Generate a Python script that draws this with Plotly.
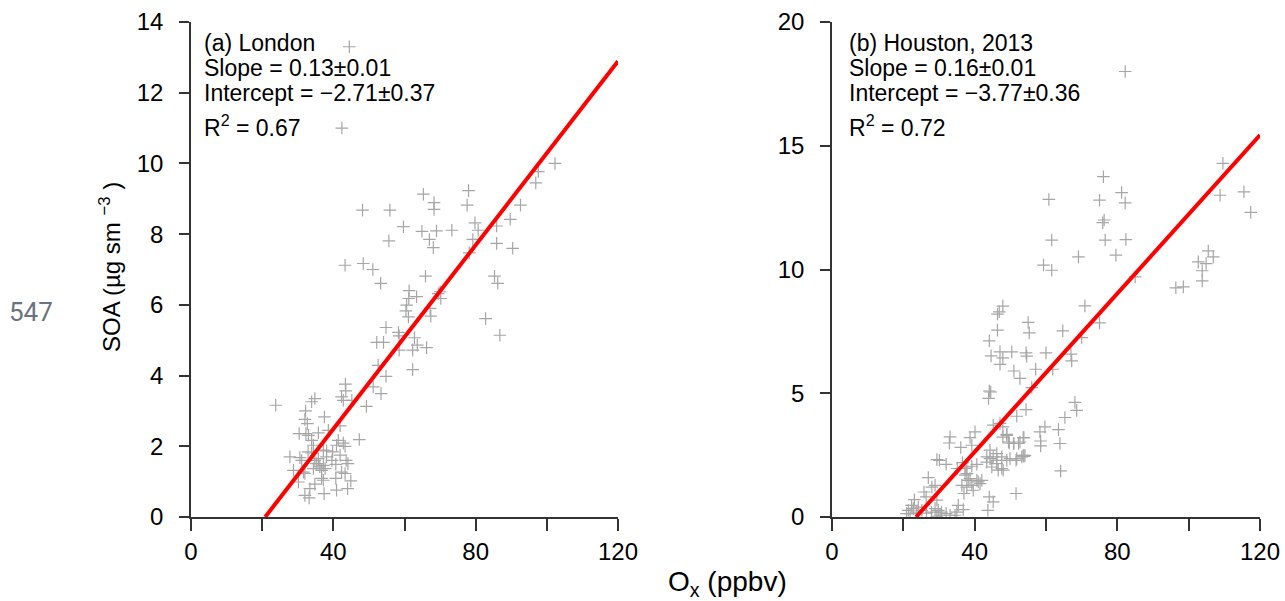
import plotly.graph_objects as go

# ---------------- data ----------------
london_ox = [44.5, 42.4, 102.3, 97.6, 96.9, 92.6, 89.7, 85.9, 85.9, 90.4, 78.0, 77.6, 79.8, 80.7, 79.2, 78.2,
             65.3, 68.3, 68.3, 48.2, 55.9, 59.7, 64.9, 69.0, 73.3, 67.0, 68.1, 55.6,
             43.3, 48.4, 51.1, 53.3, 85.3, 86.2, 82.8, 86.8, 65.9, 70.0, 70.2, 69.5, 61.3, 61.2, 63.4, 60.6,
             60.4, 61.1, 67.2, 67.4, 54.8, 58.3, 58.5, 52.2, 54.1, 62.8, 63.6, 62.3, 66.2, 58.5, 52.6, 62.3,
             43.4, 43.5, 42.3, 42.8, 51.2, 53.4, 49.3, 45.2, 54.8, 23.8, 34.8, 33.9, 32.2, 32.0, 32.7, 37.5,
             41.9, 38.6, 47.3, 30.4, 32.3, 33.0, 35.8, 33.9, 34.4, 41.4, 42.8, 43.3, 27.8, 30.6, 31.1, 32.9,
             33.9, 37.2, 38.1, 39.8, 40.9, 41.9, 43.6, 44.1, 39.6, 28.8, 31.6, 32.0, 34.4, 35.3, 36.2, 36.7,
             37.2, 37.7, 34.8, 35.8, 38.1, 40.7, 42.3, 43.3, 30.2, 33.4, 32.0, 33.2, 37.4, 34.8, 36.7, 37.2,
             40.9, 44.0, 44.9, 40.7]
london_soa = [13.3, 11.0, 10.0, 9.77, 9.45, 8.82, 8.42, 8.23, 7.74, 7.60, 9.23, 8.82, 8.32, 8.11, 7.85, 7.47,
              9.13, 8.89, 8.70, 8.68, 8.68, 8.21, 8.08, 8.09, 8.11, 7.85, 7.62, 7.81,
              7.12, 7.17, 7.00, 6.61, 6.81, 6.61, 5.61, 5.14, 6.81, 6.37, 6.18, 6.32, 6.40, 6.18, 6.23, 5.99,
              5.83, 5.66, 5.90, 5.68, 5.36, 5.22, 5.12, 4.94, 4.94, 5.07, 4.86, 4.72, 4.79, 4.72, 4.29, 4.17,
              3.76, 3.57, 3.40, 3.30, 3.68, 3.49, 3.13, 3.30, 3.98, 3.16, 3.35, 3.26, 3.00, 2.76, 2.64, 2.83,
              2.58, 2.45, 2.19, 2.36, 2.36, 2.31, 2.38, 2.17, 2.03, 2.17, 2.09, 2.00, 1.70, 1.68, 1.60, 1.84,
              1.81, 1.89, 1.87, 1.84, 2.03, 1.75, 1.60, 1.51, 1.60, 1.32, 1.27, 1.23, 1.37, 1.51, 1.42, 1.32,
              1.46, 1.37, 1.60, 1.65, 1.70, 1.49, 1.27, 1.23, 0.99, 0.80, 0.61, 0.54, 0.66, 0.93, 1.09, 1.04,
              0.76, 0.80, 1.02, 1.09]

houston_ox = [82.2, 109.6, 108.8, 115.5, 117.4, 76.1, 75.0, 81.2, 82.2, 76.3, 75.9, 60.8, 61.6, 76.6, 82.4,
              69.1, 79.6, 105.5, 106.9, 59.3, 61.6, 70.9, 85.0, 102.7, 104.9, 103.8, 103.8, 96.4, 98.5, 47.9,
              46.4, 46.9, 46.4, 44.1, 55.0, 55.3, 64.7, 44.6, 47.1, 47.9, 47.1, 50.4, 54.4, 54.6, 60.0, 67.0,
              67.2, 51.0, 52.7, 57.1, 61.9, 44.1, 44.5, 43.9, 54.4, 51.8, 68.1, 68.6, 65.3, 45.2, 47.1, 47.9,
              59.7, 58.3, 63.5, 33.1, 38.7, 40.1, 49.0, 53.8, 75.0, 70.0, 56.0, 58.5, 58.5, 63.9, 53.8, 64.1,
              52.7, 51.0, 49.7, 47.9, 39.2, 32.9, 36.1, 29.4, 30.1, 32.0, 35.1, 36.6, 37.8, 39.2, 40.6, 43.4,
              44.3, 45.2, 46.2, 43.4, 44.8, 47.6, 48.0, 49.9, 51.6, 53.2, 54.1, 37.8, 38.7, 40.6, 41.5, 39.2,
              37.8, 39.6, 37.0, 41.0, 42.0, 51.6, 44.1, 45.2, 43.7, 27.0, 28.9, 28.0, 25.8, 26.4, 23.1, 22.3,
              22.8, 21.9, 24.2, 25.2, 23.7, 29.4, 28.9, 29.8, 30.7, 32.0, 33.1, 34.5, 35.4, 36.8, 35.0, 26.5,
              27.9, 29.4, 30.3, 20.9, 21.4, 44.3, 46.2, 47.6, 49.0, 51.8, 53.6, 46.2, 46.6, 49.0, 49.5, 50.9,
              52.3, 53.6, 36.4, 37.3, 37.3, 38.2]
houston_soa = [18.0, 14.29, 13.0, 13.14, 12.31, 13.75, 12.80, 13.11, 12.69, 12.0, 11.89, 12.83, 11.19, 11.19, 11.21,
               10.51, 10.58, 10.75, 10.51, 10.18, 9.97, 8.53, 9.70, 10.31, 10.24, 9.95, 9.54, 9.26, 9.30, 8.52,
               8.20, 8.29, 7.55, 7.12, 7.86, 7.44, 7.52, 6.51, 6.67, 6.43, 6.17, 6.67, 6.63, 6.50, 6.63, 6.58,
               6.31, 5.90, 5.60, 5.97, 5.97, 5.09, 5.05, 4.79, 4.34, 4.07, 4.63, 4.31, 4.02, 3.71, 3.78, 3.64,
               3.64, 3.44, 3.53, 3.24, 3.21, 3.44, 3.34, 3.21, 7.84, 7.25, 5.23, 3.07, 2.87, 2.97, 2.45, 1.86,
               3.03, 2.97, 2.99, 3.23, 2.90, 2.99, 2.81, 2.32, 2.29, 2.13, 1.96, 2.20, 2.02, 2.05, 2.13, 2.43,
               2.36, 2.43, 2.29, 2.22, 2.02, 1.96, 1.89, 2.36, 2.29, 2.43, 2.49, 1.75, 1.55, 1.48, 1.35, 1.28,
               1.21, 1.08, 0.95, 1.42, 1.48, 0.95, 0.81, 0.61, 0.27, 1.59, 1.28, 1.21, 1.01, 0.81, 0.70, 0.47,
               0.34, 0.14, 0.40, 0.27, 0.20, 0.68, 0.34, 0.27, 0.20, 0.14, 0.07, 0.07, 0.47, 0.30, 0.20, 0.16,
               0.20, 0.03, 0.07, 0.14, 0.27, 2.70, 2.56, 2.43, 2.29, 2.36, 2.49, 2.16, 1.89, 3.30, 3.03, 2.97,
               2.97, 3.21, 1.28, 1.96, 1.69, 1.48]

fit_slope = [0.13, 0.16]
fit_intercept = [-2.71, -3.77]
panel_text = [
    ["(a) London", "Slope = 0.13±0.01", "Intercept = −2.71±0.37", "R<sup>2</sup> = 0.67"],
    ["(b) Houston, 2013", "Slope = 0.16±0.01", "Intercept = −3.77±0.36", "R<sup>2</sup> = 0.72"],
]
x_tickvals = [0, 20, 40, 60, 80, 100, 120]
x_ticktext = ["0", "", "40", "", "80", "", "120"]
y_ranges = [[0, 14], [0, 20]]
y_dticks = [2, 5]

# ---------------- figure ----------------
W, H = 1285, 601
ML, MR, MT, MB = 191, 25, 22, 84
PW, PH = W - ML - MR, H - MT - MB

def px(x):
    return (x - ML) / PW
def py(y):
    return (H - MB - y) / PH

FONT = "Liberation Sans, Arial, sans-serif"
GRAY = "#a6a6a6"
AX = "#333333"

fig = go.Figure()
datasets = [(london_ox, london_soa), (houston_ox, houston_soa)]
for i, (xs, ys) in enumerate(datasets):
    xa = "x" if i == 0 else "x2"
    ya = "y" if i == 0 else "y2"
    fig.add_trace(go.Scatter(
        x=xs, y=ys, mode="markers", xaxis=xa, yaxis=ya, showlegend=False,
        marker=dict(symbol="cross-thin", size=9, line=dict(width=1.2, color=GRAY), color=GRAY),
        hoverinfo="skip"))
    x0 = -fit_intercept[i] / fit_slope[i]
    lx = [x0, 120]
    ly = [fit_slope[i] * v + fit_intercept[i] for v in lx]
    fig.add_trace(go.Scatter(
        x=lx, y=ly, mode="lines", xaxis=xa, yaxis=ya, showlegend=False,
        line=dict(color="#ff0000", width=4), hoverinfo="skip"))

xdom = [[0, px(618)], [px(832), 1]]

common_x = dict(range=[0, 120], tickvals=x_tickvals, ticktext=x_ticktext, showgrid=False, zeroline=False,
                showline=True, linecolor=AX, linewidth=1.5, ticks="outside", ticklen=12, tickwidth=1.5,
                tickcolor=AX, automargin=False, tickfont=dict(family=FONT, size=24, color="black"))
common_y = dict(showgrid=False, zeroline=False, showline=True, linecolor=AX, linewidth=1.5,
                ticks="outside", ticklen=10, tickwidth=1.5, tickcolor=AX, automargin=False,
                ticklabelstandoff=11,
                tickfont=dict(family=FONT, size=24, color="black"))

fig.update_layout(
    width=W, height=H, autosize=False,
    margin=dict(l=ML, r=MR, t=MT, b=MB, pad=0),
    paper_bgcolor="white", plot_bgcolor="white",
    xaxis=dict(domain=xdom[0], anchor="y", **common_x),
    xaxis2=dict(domain=xdom[1], anchor="y2", **common_x),
    yaxis=dict(domain=[0, 1], anchor="x", range=y_ranges[0], dtick=y_dticks[0], **common_y),
    yaxis2=dict(domain=[0, 1], anchor="x2", range=y_ranges[1], dtick=y_dticks[1], **common_y),
)

annots = []
text_left = [202, 847]
line_y = [43, 68, 93, 126]
for i in range(2):
    for j, t in enumerate(panel_text[i]):
        annots.append(dict(x=px(text_left[i]), y=py(line_y[j]), xref="paper", yref="paper",
                           xanchor="left", yanchor="middle", text=t, showarrow=False,
                           font=dict(family=FONT, size=23, color="black")))
annots.append(dict(x=px(110), y=py(267), xref="paper", yref="paper", textangle=-90,
                   xanchor="center", yanchor="middle", text="SOA (µg sm <sup>−3</sup> )",
                   showarrow=False, font=dict(family=FONT, size=24, color="black")))
annots.append(dict(x=px(727), y=py(583), xref="paper", yref="paper",
                   xanchor="center", yanchor="middle", text="O<sub>x</sub> (ppbv)",
                   showarrow=False, font=dict(family=FONT, size=28, color="black")))
annots.append(dict(x=px(31), y=py(312), xref="paper", yref="paper",
                   xanchor="center", yanchor="middle", text="547",
                   showarrow=False, font=dict(family="Roboto, Noto Sans, sans-serif", size=26, color="#6b7280")))
fig.update_layout(annotations=annots)

fig.write_html("out.html")
